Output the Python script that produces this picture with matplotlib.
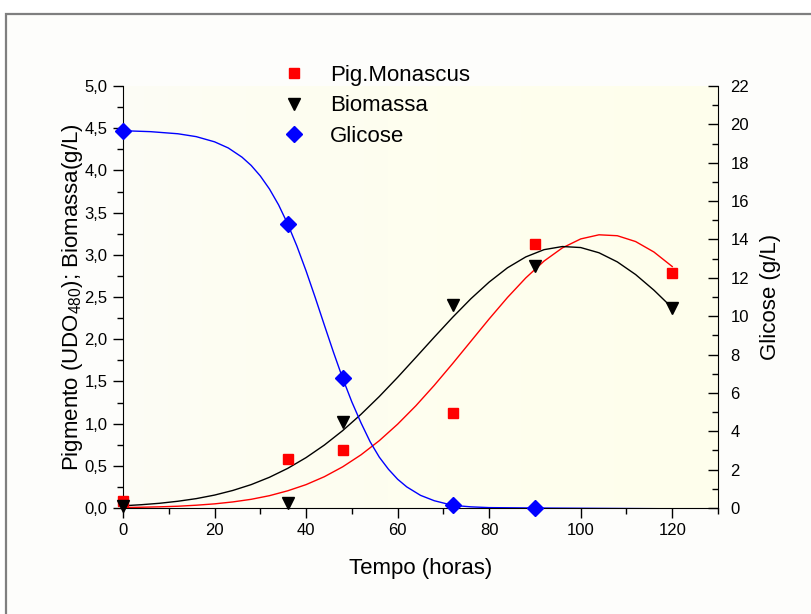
import matplotlib.pyplot as plt
import numpy as np
from matplotlib.patches import Rectangle
from matplotlib.ticker import FuncFormatter, MultipleLocator

# 测量点 (horas)
tempo = [0, 36, 48, 72, 90, 120]
pigmento = [0.08, 0.585, 0.69, 1.13, 3.13, 2.78]
biomassa = [0.02, 0.065, 1.02, 2.41, 2.87, 2.37]
tempo_glicose = [0, 36, 48, 72, 90]
glicose = [19.66, 14.8, 6.76, 0.14, 0.02]

# 拟合曲线 (从图上读出的点)
ajuste_t = [0, 4, 8, 12, 16, 20, 24, 28, 32, 36, 40, 44, 48, 52, 56, 60,
            64, 68, 72, 76, 80, 84, 88, 92, 96, 100, 104, 108, 112, 116, 120]
ajuste_pig = [0.005, 0.009, 0.014, 0.021, 0.033, 0.049, 0.072, 0.103, 0.146,
              0.204, 0.277, 0.371, 0.488, 0.630, 0.798, 0.993, 1.212, 1.453,
              1.710, 1.975, 2.240, 2.494, 2.726, 2.926, 3.082, 3.188, 3.237,
              3.226, 3.157, 3.033, 2.861]
ajuste_bio = [0.026, 0.039, 0.056, 0.080, 0.111, 0.153, 0.208, 0.277, 0.364,
              0.470, 0.597, 0.746, 0.917, 1.110, 1.321, 1.548, 1.785, 2.024,
              2.258, 2.479, 2.677, 2.846, 2.975, 3.061, 3.098, 3.086, 3.024,
              2.916, 2.766, 2.581, 2.371]
ajuste_t_gli = [0, 6, 12, 16, 20, 23, 26, 28, 30, 32, 34, 36, 38, 40, 42, 44,
                46, 48, 50, 52, 54, 56, 58, 60, 62, 65, 68, 72, 76, 80, 90,
                105, 120]
ajuste_gli = [19.67, 19.62, 19.51, 19.36, 19.09, 18.77, 18.29, 17.86, 17.31,
              16.63, 15.80, 14.80, 13.65, 12.36, 10.97, 9.53, 8.11, 6.76,
              5.53, 4.44, 3.45, 2.65, 2.02, 1.50, 1.10, 0.66, 0.38, 0.14,
              0.06, 0.02, 0.0, -0.02, -0.04]

plt.rcParams["font.family"] = ["Liberation Sans", "DejaVu Sans"]
plt.rcParams["mathtext.default"] = "regular"

fig = plt.figure(figsize=(8.12, 6.14), dpi=100)

# 外框
fig.add_artist(Rectangle((6 / 812, -0.1), 1.2, 1 - 14 / 614 + 0.1,
                         transform=fig.transFigure, facecolor="#fdfdfb",
                         edgecolor="#7f7f7f", linewidth=1.6, zorder=-10))

ax = fig.add_axes([123 / 812, 1 - 508 / 614, 595 / 812, 422 / 614])
ax.patch.set_alpha(0)

# 背景渐变
grad = np.linspace(0, 1, 256)
c0 = np.array([252, 252, 247]) / 255
c1 = np.array([255, 255, 236]) / 255
img = c0[None, None, :] + (c1 - c0)[None, None, :] * np.sqrt(grad)[None, :, None]
ax.imshow(img, extent=[0, 130, 0, 5], aspect="auto", zorder=0)

ax.plot(ajuste_t, ajuste_pig, color="red", lw=1, zorder=2)
ax.plot(ajuste_t, ajuste_bio, color="black", lw=1, zorder=2)
h1, = ax.plot(tempo, pigmento, "s", color="red", ms=7, mec="red",
              clip_on=False, zorder=3, label="Pig.Monascus")
h2, = ax.plot(tempo, biomassa, "v", color="black", ms=8, clip_on=False,
              zorder=4, label="Biomassa")

ax.set_xlim(0, 130)
ax.set_ylim(0, 5)
ax.xaxis.set_major_locator(MultipleLocator(20))
ax.xaxis.set_minor_locator(MultipleLocator(10))
ax.yaxis.set_major_locator(MultipleLocator(0.5))
ax.yaxis.set_minor_locator(MultipleLocator(0.25))
ax.yaxis.set_major_formatter(FuncFormatter(lambda v, p: f"{v:.1f}".replace(".", ",")))
ax.tick_params(which="both", direction="out", width=1, labelsize=12,
               right=False, top=False)
ax.tick_params(which="major", length=7, pad=4)
ax.tick_params(which="minor", length=4)
for s in ("top", "right"):
    ax.spines[s].set_visible(False)
ax.set_xlabel("Tempo (horas)", fontsize=16, labelpad=14)
ax.set_ylabel("Pigmento (UDO$_{480}$); Biomassa(g/L)", fontsize=16, labelpad=0)

ax2 = ax.twinx()
ax2.plot(ajuste_t_gli, ajuste_gli, color="blue", lw=1, zorder=2)
h3, = ax2.plot(tempo_glicose, glicose, "D", color="blue", ms=8,
               clip_on=False, zorder=3, label="Glicose")
ax2.set_ylim(0, 22)
ax2.yaxis.set_major_locator(MultipleLocator(2))
ax2.yaxis.set_minor_locator(MultipleLocator(1))
ax2.tick_params(which="both", direction="in", width=1, labelsize=12, pad=9)
ax2.tick_params(which="major", length=7)
ax2.tick_params(which="minor", length=4)
for s in ("top", "left", "bottom"):
    ax2.spines[s].set_visible(False)
ax2.set_ylabel("Glicose (g/L)", fontsize=16, labelpad=8)

fig.legend([h1, h2, h3], ["Pig.Monascus", "Biomassa", "Glicose"],
           loc="upper left", bbox_to_anchor=(272 / 812, 1 - 54 / 614),
           frameon=False, fontsize=16, handlelength=1.0, handletextpad=1.1,
           labelspacing=0.42, borderpad=0)

fig.savefig("out.png", dpi=100)
